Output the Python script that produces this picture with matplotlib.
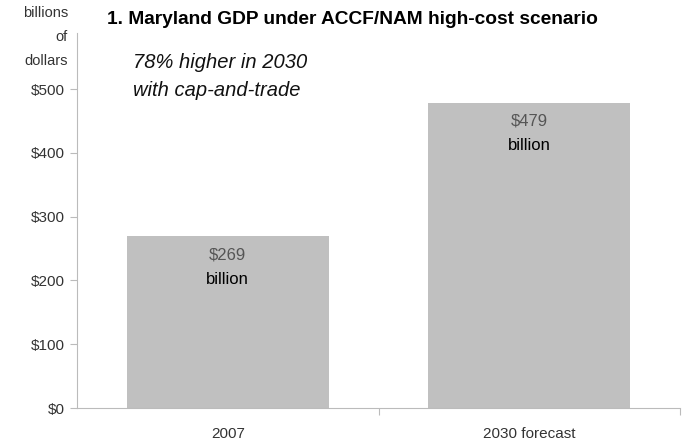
import matplotlib
matplotlib.use("Agg")
import matplotlib.pyplot as plt

categories = ["2007", "2030 forecast"]
values = [269, 479]
bar_labels = ["$269", "$479"]
yticks = [0, 100, 200, 300, 400, 500]
ytick_labels = ["$0", "$100", "$200", "$300", "$400", "$500"]

fig = plt.figure(figsize=(6.83, 4.44), dpi=100)
ax = fig.add_axes([77/683, 1-408/444, (680-77)/683, (408-33)/444])

x = list(range(len(categories)))
ax.bar(x, values, width=0.67, color="#c0c0c0")
ax.set_xlim(-0.5, 1.5)
ax.set_ylim(0, 588)
ax.set_yticks(yticks)
ax.set_yticklabels(ytick_labels, fontsize=11, color="#333333", family="Liberation Sans")
ax.set_xticks([0.5, 1.5], minor=False)
ax.set_xticklabels([])
ax.set_xticks(x, minor=True)
ax.set_xticklabels(categories, minor=True, fontsize=11, color="#333333", family="Liberation Sans")
ax.tick_params(axis="x", which="minor", length=0, pad=14)
ax.tick_params(axis="x", which="major", length=5, color="#bbbbbb", direction="out")
ax.tick_params(axis="y", length=5, color="#bbbbbb", pad=4)
for s in ["top", "right"]:
    ax.spines[s].set_visible(False)
ax.spines["left"].set_color("#bbbbbb")
ax.spines["bottom"].set_color("#bbbbbb")

for xi, v, lab in zip(x, values, bar_labels):
    ax.text(xi, v - 29, lab, ha="center", va="center", fontsize=12, color="#555555", family="Liberation Sans")
    ax.text(xi, v - 67, "billion", ha="center", va="center", fontsize=12, color="#000000", family="Liberation Sans")

fig.text(68/683, 1-37/444, "billions\nof\ndollars", ha="right", va="center", fontsize=10.5,
         color="#333333", family="Liberation Sans", linespacing=1.95)
fig.text(107/683, 1-20/444, "1. Maryland GDP under ACCF/NAM high-cost scenario", ha="left", va="center",
         fontsize=13.8, fontweight="bold", family="Liberation Sans", color="#000000")
fig.text(133/683, 1-62/444, "78% higher in 2030", ha="left", va="center", fontsize=14.5,
         style="italic", family="Liberation Sans", color="#111111")
fig.text(133/683, 1-90/444, "with cap-and-trade", ha="left", va="center", fontsize=14.5,
         style="italic", family="Liberation Sans", color="#111111")

fig.savefig("out.png", dpi=100)
